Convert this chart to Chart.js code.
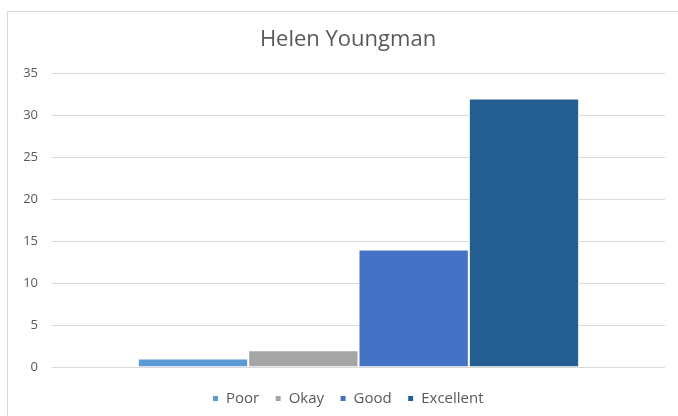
<!DOCTYPE html>
<html>
<head>
<meta charset="utf-8">
<script src="https://cdn.jsdelivr.net/npm/chart.js@4/dist/chart.umd.min.js"></script>
<style>
  html, body { margin: 0; padding: 0; background: #fff; }
  #wrap { position: relative; width: 678px; height: 416px; overflow: hidden; }
  #frame {
    position: absolute; left: 7px; top: 11px; width: 700px; height: 420px;
    border-left: 1px solid #d9d9d9; border-top: 1px solid #d9d9d9;
    pointer-events: none;
  }
  canvas { position: absolute; left: 0; top: 0; }
</style>
</head>
<body>
<div id="wrap">
  <canvas id="chart" width="700" height="416"></canvas>
  <div id="frame"></div>
</div>
<script>
const chartTitle = 'Helen Youngman';
const categories = [''];
const seriesNames = ['Poor', 'Okay', 'Good', 'Excellent'];
const seriesValues = [1, 2, 14, 32];
const yTicks = [0, 5, 10, 15, 20, 25, 30, 35];

const seriesColors = ['#5b9bd5', '#a5a5a5', '#4472c4', '#255e91'];
const textColor = '#595959';
const gridColor = '#d9d9d9';
const fontFamily = '"Open Sans", "Liberation Sans", sans-serif';

const datasets = seriesNames.map((name, i) => ({
  label: name,
  data: [seriesValues[i]],
  backgroundColor: seriesColors[i],
  borderColor: '#ffffff',
  borderWidth: 1,
  borderSkipped: 'bottom',
  categoryPercentage: 0.72,
  barPercentage: 1,
}));

new Chart(document.getElementById('chart').getContext('2d'), {
  type: 'bar',
  data: { labels: categories, datasets },
  options: {
    responsive: false,
    animation: false,
    layout: { padding: { left: 10, right: 14, top: 18, bottom: 0 } },
    plugins: {
      title: {
        display: true,
        text: chartTitle,
        color: textColor,
        font: { family: fontFamily, size: 22, weight: 'normal' },
        padding: { top: 9, bottom: 20 },
      },
      legend: {
        position: 'bottom',
        labels: {
          color: textColor,
          font: { family: fontFamily, size: 15 },
          boxWidth: 6,
          boxHeight: 6,
          padding: 16,
        },
      },
      tooltip: { enabled: false },
    },
    scales: {
      x: {
        grid: { display: false },
        border: { display: false },
        ticks: { display: false },
      },
      y: {
        min: 0,
        max: 35,
        afterBuildTicks: (scale) => {
          scale.ticks = yTicks.map((v) => ({ value: v }));
        },
        afterFit: (scale) => {
          scale.width = 42;
        },
        grid: { color: gridColor, lineWidth: 1, drawTicks: false },
        border: { display: false },
        ticks: {
          color: textColor,
          font: { family: fontFamily, size: 13 },
          padding: 14,
        },
      },
      // empty right-hand spacer so title and legend sit centred like the original
      spacer: {
        type: 'linear',
        position: 'right',
        grid: { display: false },
        border: { display: false },
        ticks: { display: false },
        afterFit: (scale) => {
          scale.width = 21;
        },
      },
    },
  },
});
</script>
</body>
</html>
